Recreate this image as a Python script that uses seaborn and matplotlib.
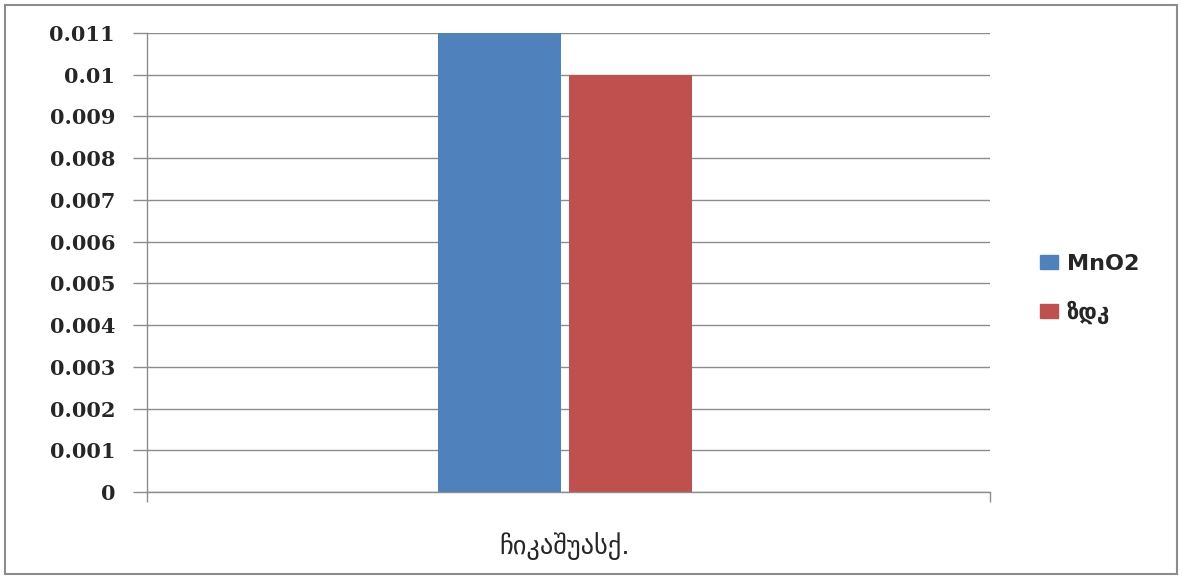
import matplotlib
matplotlib.use("Agg")

import matplotlib.pyplot as plt
import pandas as pd
import seaborn as sns
from matplotlib.patches import Rectangle

# data
places = ["ჩიკაშუასქ."]
series = ["MnO2", "ზდკ"]
values = [0.011, 0.010]
y_ticks = [0, 0.001, 0.002, 0.003, 0.004, 0.005, 0.006, 0.007, 0.008, 0.009, 0.01, 0.011]
colors = ["#4F81BD", "#C0504D"]

df = pd.DataFrame({
    "place": places * len(series),
    "series": series,
    "value": values,
})

sns.set_theme(style="white")
plt.rcParams["font.family"] = ["DejaVu Sans"]

fig = plt.figure(figsize=(11.83, 5.79), dpi=100)
ax = fig.add_axes([147 / 1183, 1 - 492 / 579, (990 - 147) / 1183, (492 - 33) / 579])

sns.barplot(
    data=df, x="place", y="value", hue="series",
    palette=colors, width=0.31, gap=0.06, linewidth=0,
    saturation=1, legend=False, ax=ax,
)

ax.set_xlim(-0.496, 0.504)
ax.set_ylim(0, 0.011)
ax.set_yticks(y_ticks)
ax.set_yticklabels([f"{round(v, 3):g}" for v in y_ticks],
                   fontfamily="DejaVu Serif", fontweight="bold", fontsize=15)
ax.grid(axis="y", color="#8c8c8c", linewidth=1)
ax.set_axisbelow(True)
ax.set_xlabel("")
ax.set_ylabel("")

for side in ["top", "right"]:
    ax.spines[side].set_visible(False)
for side in ["left", "bottom"]:
    ax.spines[side].set_color("#8c8c8c")
    ax.spines[side].set_linewidth(1)

ax.tick_params(axis="y", which="major", left=True, length=10, width=1,
               color="#8c8c8c", pad=13)
ax.tick_params(axis="x", which="major", length=0, pad=29, labelsize=19)
ax.set_xticks([-0.496, 0.504], minor=True)
ax.tick_params(axis="x", which="minor", bottom=True, length=7, width=1, color="#8c8c8c")

handles = [Rectangle((0, 0), 1, 1, color=c) for c in colors]
fig.legend(handles, series, loc="center left", bbox_to_anchor=(1020 / 1183, 1 - 289 / 579),
           frameon=False, handlelength=0.8, handleheight=0.6,
           handletextpad=0.4, labelspacing=1.2, prop={"weight": "bold", "size": 16})

fig.patches.append(Rectangle((5 / 1183, 5 / 579), 1172 / 1183, 569 / 579,
                             transform=fig.transFigure, fill=False,
                             edgecolor="#8c8c8c", linewidth=1.5))

fig.savefig("out.png", dpi=100)
